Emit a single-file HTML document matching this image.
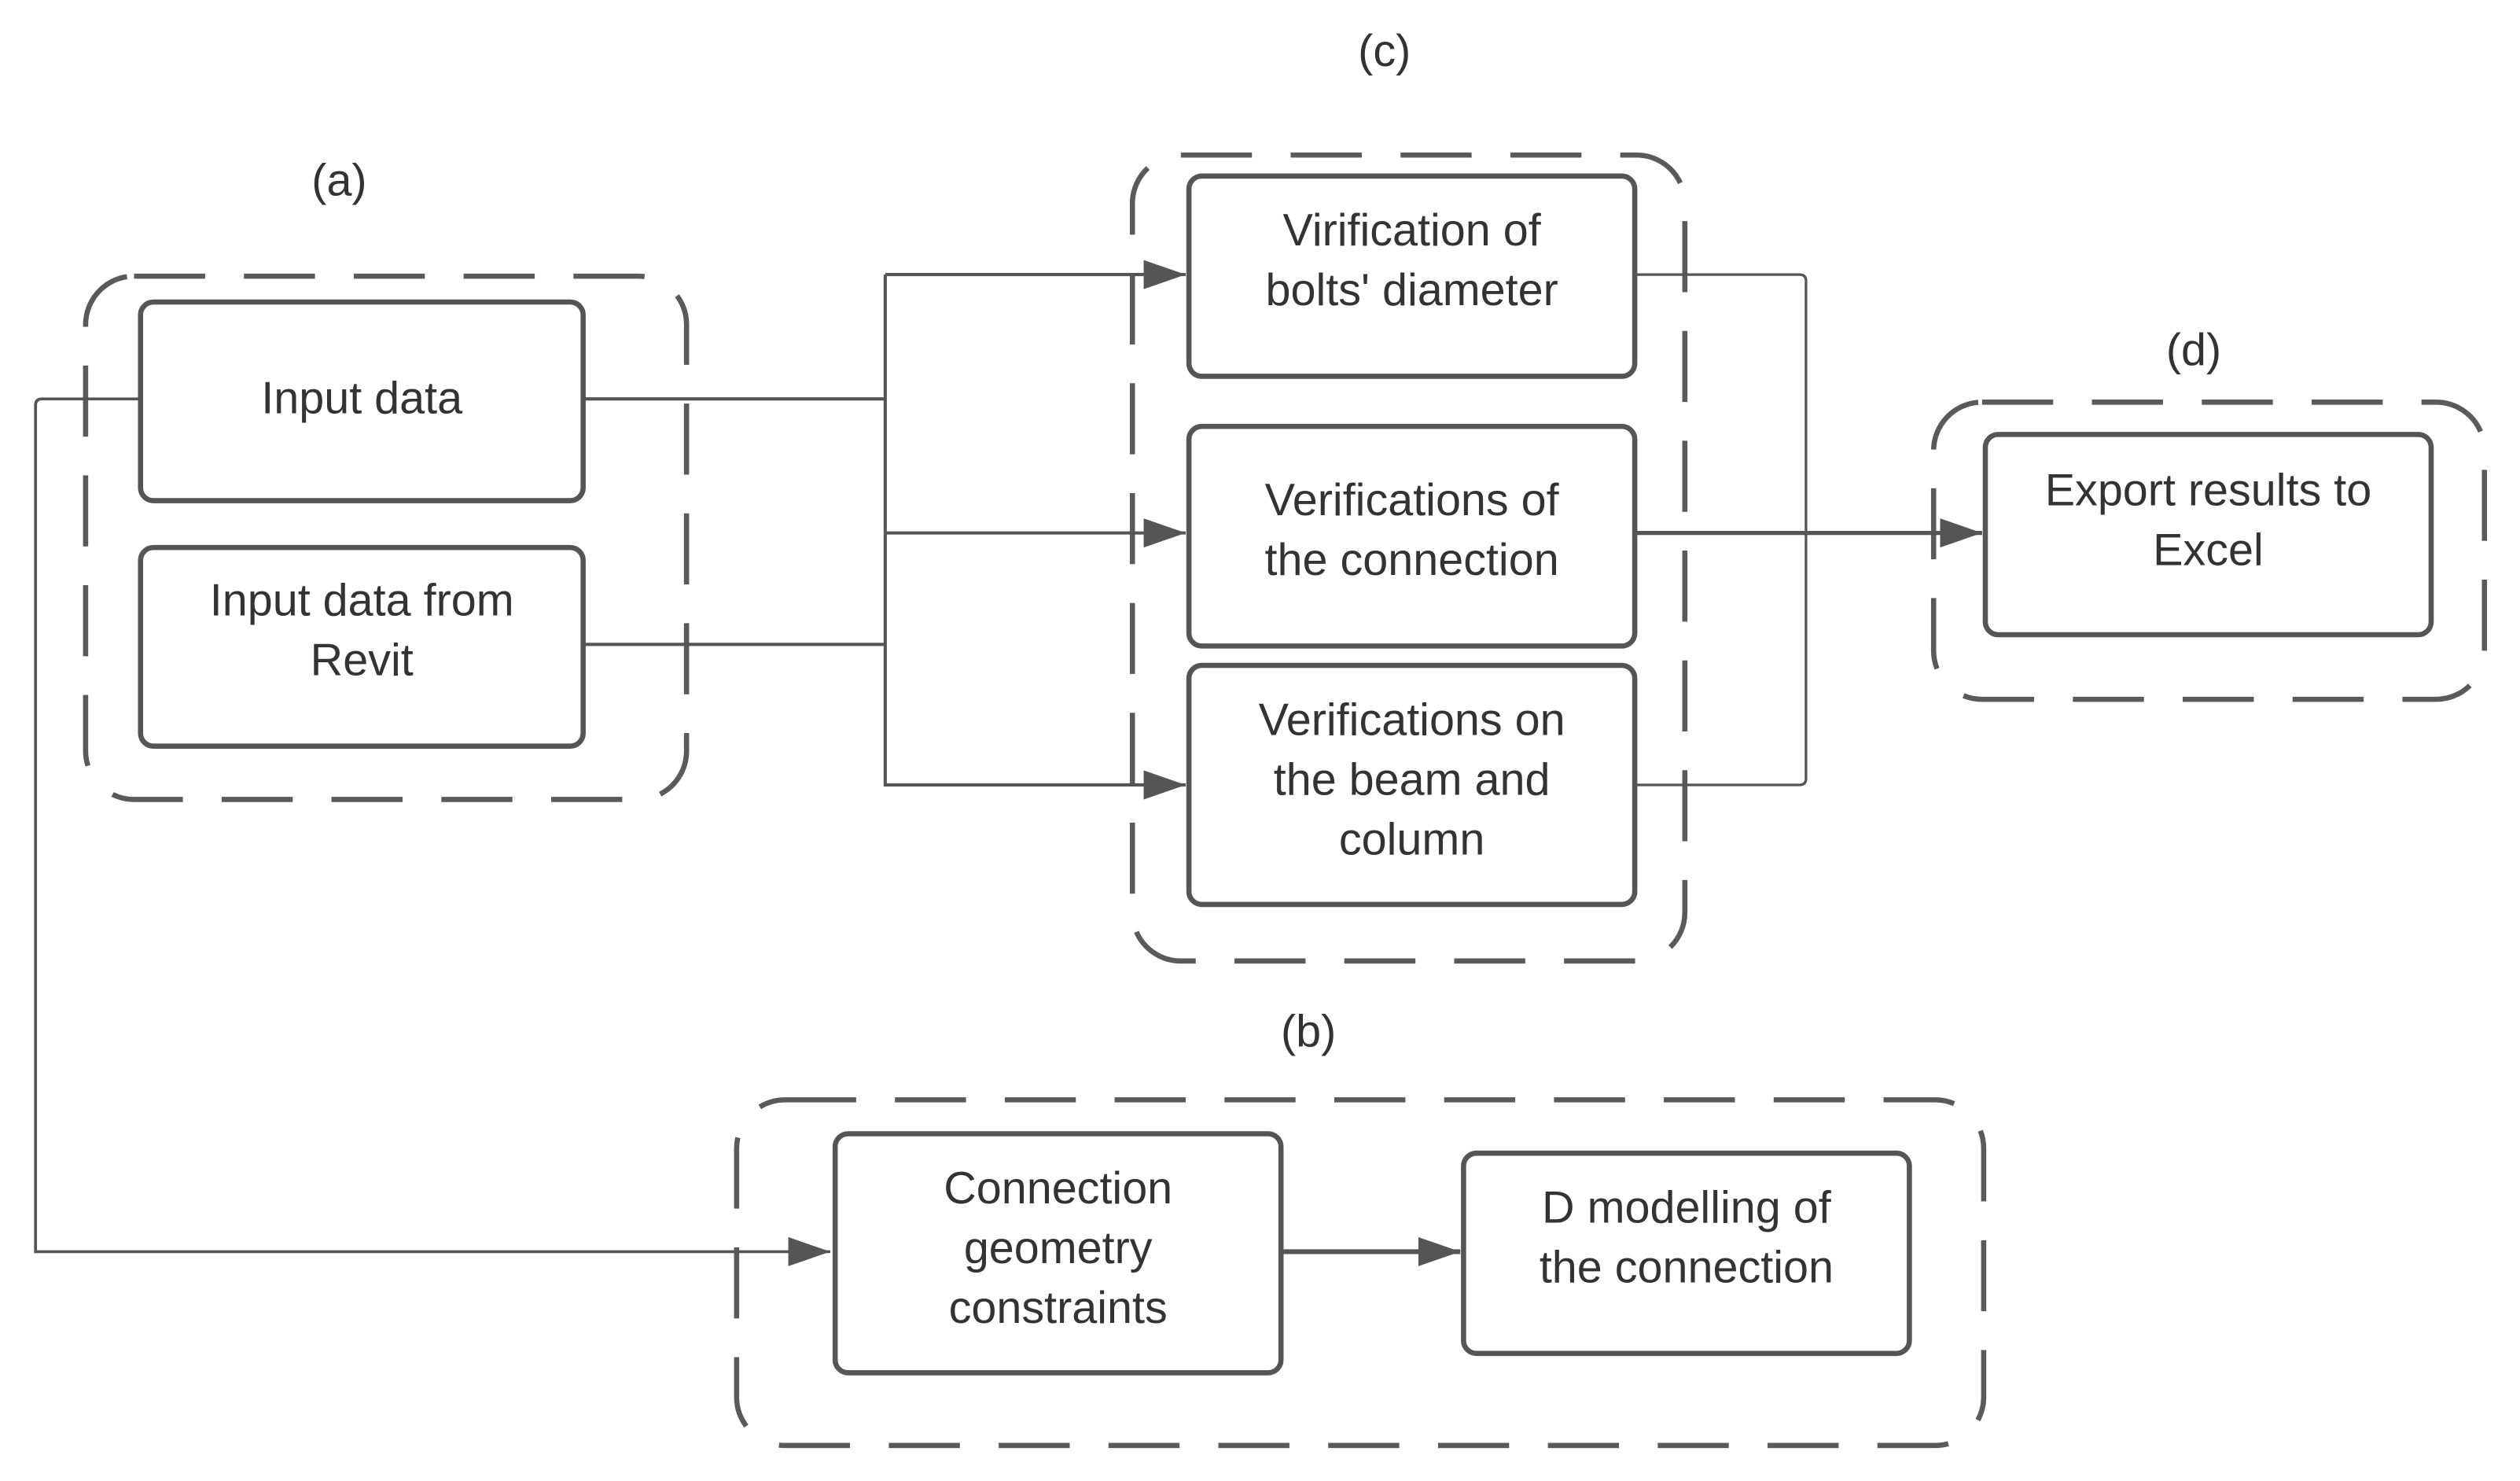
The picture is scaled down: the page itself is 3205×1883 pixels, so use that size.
<!DOCTYPE html>
<html><head><meta charset="utf-8"><style>
html,body{margin:0;padding:0;background:#fff;}
svg{display:block;}
text{font-family:"Liberation Sans",sans-serif;fill:#333;font-size:28px;text-anchor:middle;}
</style></head><body>
<svg width="3205" height="1883" viewBox="0 0 1560 917" preserveAspectRatio="none" xmlns="http://www.w3.org/2000/svg">
<defs>
<marker id="ar" markerWidth="26" markerHeight="20" refX="26" refY="10" orient="auto" markerUnits="userSpaceOnUse" viewBox="0 0 26 20">
<path d="M0,1 L26,10 L0,19 z" fill="#555"/>
</marker>
</defs>
<g fill="none" stroke="#5a5a5a" stroke-width="3.2" stroke-dasharray="44 24">
<rect x="53" y="171" width="372" height="324" rx="30"/>
<rect x="701" y="96" width="342" height="499" rx="30"/>
<rect x="1197" y="249" width="341" height="184" rx="30"/>
<rect x="456" y="681" width="772" height="214" rx="30"/>
</g>
<g fill="none" stroke="#555" stroke-width="1.6">
<path d="M86 247 H26 Q22 247 22 251 V775 H514" marker-end="url(#ar)" stroke-width="1.8"/>
<path d="M361 247 H548 M361 399 H548 M548 330 V170" stroke-width="2"/>
<path d="M548 170 H734" marker-end="url(#ar)" stroke-width="2"/>
<path d="M548 330 H734" marker-end="url(#ar)" stroke-width="2"/>
<path d="M548 330 V486 H734" marker-end="url(#ar)" stroke-width="2"/>
<path d="M1012 170 H1114 Q1118 170 1118 174 V482 Q1118 486 1114 486 H1012"/>
<path d="M1012 330 H1227" marker-end="url(#ar)" stroke-width="2.6"/>
<path d="M793 775 H904" marker-end="url(#ar)" stroke-width="3"/>
</g>
<g fill="#fff" stroke="#555" stroke-width="3.2">
<rect x="87" y="187" width="274" height="123" rx="8"/>
<rect x="87" y="339" width="274" height="123" rx="8"/>
<rect x="736" y="109" width="276" height="124" rx="8"/>
<rect x="736" y="264" width="276" height="136" rx="8"/>
<rect x="736" y="412" width="276" height="148" rx="8"/>
<rect x="1229" y="269" width="276" height="124" rx="8"/>
<rect x="517" y="702" width="276" height="148" rx="8"/>
<rect x="906" y="714" width="276" height="124" rx="8"/>
</g>
<text x="210" y="121">(a)</text>
<text x="857" y="41">(c)</text>
<text x="1358" y="226">(d)</text>
<text x="810" y="648">(b)</text>
<text x="224" y="256">Input data</text>
<text x="224" y="381">Input data from</text>
<text x="224" y="418">Revit</text>
<text x="874" y="152">Virification of</text>
<text x="874" y="189">bolts' diameter</text>
<text x="874" y="319">Verifications of</text>
<text x="874" y="356">the connection</text>
<text x="874" y="455">Verifications on</text>
<text x="874" y="492">the beam and</text>
<text x="874" y="529">column</text>
<text x="1367" y="313">Export results to</text>
<text x="1367" y="350">Excel</text>
<text x="655" y="745">Connection</text>
<text x="655" y="782">geometry</text>
<text x="655" y="819">constraints</text>
<text x="1044" y="757">D modelling of</text>
<text x="1044" y="794">the connection</text>
</svg>
</body></html>
